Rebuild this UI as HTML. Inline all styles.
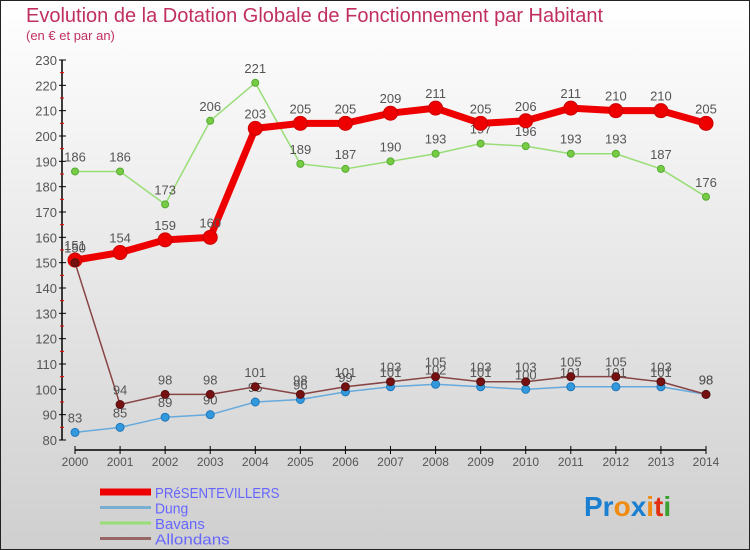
<!DOCTYPE html>
<html><head><meta charset="utf-8"><style>
body{margin:0}
#wrap{width:750px;height:550px;position:relative;overflow:hidden;font-family:"Liberation Sans",sans-serif}
</style></head><body>
<div id="wrap">
<svg id="svg" width="750" height="550" xmlns="http://www.w3.org/2000/svg">
<defs><linearGradient id="bg" x1="0" y1="0" x2="0" y2="1"><stop offset="0" stop-color="#ffffff"/><stop offset="1" stop-color="#cfcfcf"/></linearGradient></defs>
<rect x="0.5" y="0.5" width="749" height="549" fill="url(#bg)" stroke="#222"/>
<text x="26" y="22" font-size="20" fill="#c0305f">Evolution de la Dotation Globale de Fonctionnement par Habitant</text>
<text x="26" y="40" font-size="13" fill="#c0305f">(en € et par an)</text>
<g id="axes"></g><g id="series"></g><g id="legend"></g>
<text x="584" y="516" font-size="28" font-weight="bold"><tspan fill="#1a7fd0">Pr</tspan><tspan fill="#f08a10">o</tspan><tspan fill="#1a7fd0">x</tspan><tspan fill="#f08a10">i</tspan><tspan fill="#e03010">t</tspan><tspan fill="#3aa030">i</tspan></text>
</svg>
</div>
<script>
const years=[2000,2001,2002,2003,2004,2005,2006,2007,2008,2009,2010,2011,2012,2013,2014];
const yTicks=[80,90,100,110,120,130,140,150,160,170,180,190,200,210,220,230];
const presente=[151,154,159,160,203,205,205,209,211,205,206,211,210,210,205];
const dung=[83,85,89,90,95,96,99,101,102,101,100,101,101,101,98];
const bavans=[186,186,173,206,221,189,187,190,193,197,196,193,193,187,176];
const allondans=[150,94,98,98,101,98,101,103,105,103,103,105,105,103,98];
const NS="http://www.w3.org/2000/svg";
function xs(i){return 75+i*(706-75)/(years.length-1);}
function ys(v){return 440-(v-80)*380/150;}
function mk(t,a,p){const e=document.createElementNS(NS,t);for(const k in a)e.setAttribute(k,a[k]);p.appendChild(e);return e;}
const ax=document.getElementById('axes');
let l=mk('line',{x1:62,y1:60,x2:62,y2:440,stroke:'#000','stroke-width':1.5},ax);


yTicks.forEach(v=>{
 mk('line',{x1:59,x2:66,y1:ys(v),y2:ys(v),stroke:'#000'},ax);
 if(v<230) mk('line',{x1:60,x2:64,y1:ys(v+5),y2:ys(v+5),stroke:'#e00'},ax);
 const t=mk('text',{x:57,y:ys(v)+5,'text-anchor':'end','font-size':13,fill:'#555'},ax);t.textContent=v;
 
 
});
l=mk('line',{x1:75,y1:450,x2:706,y2:450,stroke:'#000','stroke-width':1.5},ax);


years.forEach((y,i)=>{
 mk('line',{x1:xs(i),x2:xs(i),y1:446,y2:454,stroke:'#000'},ax);
 const t=mk('text',{x:xs(i),y:466,'text-anchor':'middle','font-size':12,fill:'#555'},ax);t.textContent=y;
 
 
});
const sg=document.getElementById('series');
function draw(vals,name,color,w,r,fill,stroke){
 const g=mk('g',{},sg);
 
 
 const pl=mk('polyline',{points:vals.map((v,i)=>xs(i)+','+ys(v)).join(' '),fill:'none',stroke:color,'stroke-width':w,'stroke-linejoin':'round'},g);
 
 
 vals.forEach((v,i)=>{
  const c=mk('circle',{cx:xs(i),cy:ys(v),r:r,fill:fill,stroke:stroke},g);
  
  
  const t=mk('text',{x:xs(i),y:ys(v)-10,'text-anchor':'middle','font-size':13,fill:'#555'},g);t.textContent=v;
  
  
 });
}
draw(bavans,'bavans','#99dd77',1.5,3.5,'#77cc44','#55aa33');
draw(dung,'dung','#66aadd',1.5,4,'#3399dd','#2277bb');
draw(presente,'presentevillers','#ee0000',7,7,'#ee0000','#cc0000');
draw(allondans,'allondans','#884444',1.5,4,'#771111','#551111');
const lg=document.getElementById('legend');
[['PRéSENTEVILLERS','#ee0000',7],['Dung','#7aaed0',3],['Bavans','#99dd77',3],['Allondans','#996666',3]].forEach((d,i)=>{
 const y=492+i*15.5;
 const g=mk('g',{},lg);
 
 
 mk('line',{x1:100,x2:151,y1:y,y2:y,stroke:d[1],'stroke-width':d[2]},g);
 const t=mk('text',{x:155,y:y+6,'font-size':15,fill:'#6666ff',textLength:d[0].length*8.3,lengthAdjust:'spacingAndGlyphs'},g);
 t.textContent=d[0];
});
</script>
</body></html>
